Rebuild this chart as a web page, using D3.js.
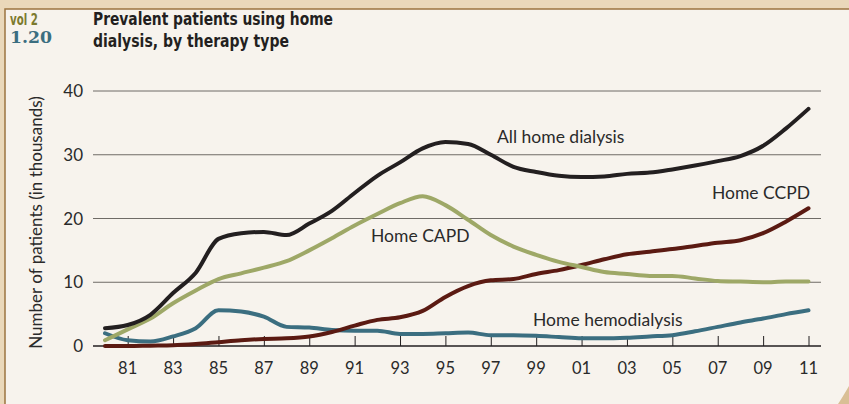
<!DOCTYPE html>
<html>
<head>
<meta charset="utf-8">
<script src="https://cdn.jsdelivr.net/npm/d3@7"></script>
<style>
  html, body { margin: 0; padding: 0; background: #ead8ba; }
  svg { display: block; }
  .axis-title, .tick-label, .series-label { font-family: Lato, "Open Sans", sans-serif; fill: #2a2a2a; }
  .chart-title { font-family: "DejaVu Sans", sans-serif; font-weight: bold; fill: #231f20; }
</style>
</head>
<body>
<div id="chart"></div>
<script>
// years 1980 - 2011
const years = d3.range(1980, 2012);

// values in thousands of patients
const allHome = [2.8, 3.3, 4.9, 8.3, 11.5, 16.8, 17.7, 17.9, 17.4, 19.2, 21.2, 24.0, 26.7, 28.8, 31.0, 32.0,
  31.7, 30.0, 28.1, 27.3, 26.7, 26.5, 26.6, 27.0, 27.2, 27.7, 28.3, 29.0, 29.8, 31.4, 34.1, 37.2];
const homeCAPD = [0.9, 2.6, 4.3, 6.7, 8.7, 10.5, 11.4, 12.3, 13.3, 15.0, 16.9, 18.9, 20.7, 22.4, 23.5, 22.1,
  19.8, 17.4, 15.6, 14.3, 13.2, 12.4, 11.6, 11.3, 11.0, 11.0, 10.6, 10.2, 10.1, 10.0, 10.1, 10.1];
const homeCCPD = [0.0, 0.0, 0.05, 0.1, 0.3, 0.6, 0.9, 1.1, 1.2, 1.5, 2.2, 3.2, 4.1, 4.5, 5.5, 7.7,
  9.4, 10.3, 10.5, 11.3, 11.9, 12.7, 13.6, 14.4, 14.8, 15.2, 15.7, 16.2, 16.6, 17.7, 19.5, 21.6];
const homeHemo = [2.0, 0.9, 0.7, 1.5, 2.8, 5.6, 5.4, 4.6, 3.0, 2.9, 2.5, 2.4, 2.4, 1.9, 1.9, 2.0,
  2.1, 1.7, 1.7, 1.6, 1.4, 1.2, 1.2, 1.3, 1.5, 1.7, 2.3, 3.0, 3.7, 4.3, 5.0, 5.6];

const seriesNames = ['All home dialysis', 'Home CAPD', 'Home CCPD', 'Home hemodialysis'];
const seriesColors = ['#231f20', '#9ea867', '#5b1a12', '#3b6e80'];

const yTicks = [0, 10, 20, 30, 40];
const xTicks = d3.range(1981, 2012, 2);

class LineChart {

  constructor(_config) {
    this.config = {
      parentElement: _config.parentElement,
      containerWidth: 849,
      containerHeight: 404,
      xRange: [105, 808.5],
      yRange: [346, 91],
      gridLeft: 93,
      gridRight: 821
    }
    this.series = [
      {name: seriesNames[0], values: allHome, color: seriesColors[0]},
      {name: seriesNames[1], values: homeCAPD, color: seriesColors[1]},
      {name: seriesNames[2], values: homeCCPD, color: seriesColors[2]},
      {name: seriesNames[3], values: homeHemo, color: seriesColors[3]}
    ];
    this.initVis();
  }

  initVis() {
    let vis = this;

    vis.xScale = d3.scaleLinear()
        .domain([1980, 2011])
        .range(vis.config.xRange);

    vis.yScale = d3.scaleLinear()
        .domain([0, 40])
        .range(vis.config.yRange);

    vis.svg = d3.select(vis.config.parentElement).append('svg')
        .attr('width', vis.config.containerWidth)
        .attr('height', vis.config.containerHeight);

    // paper background with a thin frame
    vis.svg.append('rect')
        .attr('width', vis.config.containerWidth)
        .attr('height', vis.config.containerHeight)
        .attr('fill', '#ead8ba');
    vis.svg.append('rect')
        .attr('x', 5)
        .attr('y', 9)
        .attr('width', vis.config.containerWidth)
        .attr('height', vis.config.containerHeight)
        .attr('fill', '#f7f3ed')
        .attr('stroke', '#9c7440')
        .attr('stroke-width', 1.5);
    // little page curl in the bottom right corner
    vis.svg.append('path')
        .attr('d', 'M849,386 Q842,398 838,404 L849,404 Z')
        .attr('fill', '#d9bf95');

    // header
    vis.svg.append('text')
        .attr('x', 10)
        .attr('y', 25)
        .attr('font-family', '"DejaVu Sans", sans-serif')
        .attr('font-weight', 'bold')
        .attr('font-size', 15)
        .attr('textLength', 28)
        .attr('lengthAdjust', 'spacingAndGlyphs')
        .attr('fill', '#7c7a2e')
        .text('vol 2');
    vis.svg.append('text')
        .attr('x', 10)
        .attr('y', 43)
        .attr('font-family', '"DejaVu Serif", serif')
        .attr('font-weight', 'bold')
        .attr('font-size', 16)
        .attr('textLength', 42)
        .attr('lengthAdjust', 'spacingAndGlyphs')
        .attr('fill', '#3b6e80')
        .text('1.20');

    vis.svg.append('text')
        .attr('class', 'chart-title')
        .attr('x', 93)
        .attr('y', 25)
        .attr('font-size', 18)
        .attr('textLength', 240)
        .attr('lengthAdjust', 'spacingAndGlyphs')
        .text('Prevalent patients using home');
    vis.svg.append('text')
        .attr('class', 'chart-title')
        .attr('x', 93)
        .attr('y', 47)
        .attr('font-size', 18)
        .attr('textLength', 196)
        .attr('lengthAdjust', 'spacingAndGlyphs')
        .text('dialysis, by therapy type');

    vis.chart = vis.svg.append('g');

    vis.svg.append('text')
        .attr('class', 'axis-title')
        .attr('transform', `translate(42,${(vis.config.yRange[0] + vis.config.yRange[1]) / 2 + 4}) rotate(-90)`)
        .attr('text-anchor', 'middle')
        .attr('font-size', 17)
        .text('Number of patients (in thousands)');
  }

  renderVis() {
    let vis = this;

    // horizontal gridlines
    vis.chart.selectAll('.grid')
        .data(yTicks.filter(d => d > 0))
        .join('line')
        .attr('class', 'grid')
        .attr('x1', vis.config.gridLeft)
        .attr('x2', vis.config.gridRight)
        .attr('y1', d => vis.yScale(d))
        .attr('y2', d => vis.yScale(d))
        .attr('stroke', '#6f6b66')
        .attr('stroke-width', 1);

    vis.chart.selectAll('.y-label')
        .data(yTicks)
        .join('text')
        .attr('class', 'tick-label y-label')
        .attr('x', 83)
        .attr('y', d => vis.yScale(d) + 6)
        .attr('text-anchor', 'end')
        .attr('font-size', 17)
        .text(d => d);

    // x axis, ticks pointing up
    vis.xAxis = d3.axisTop(vis.xScale)
        .tickValues(xTicks)
        .tickSize(10)
        .tickSizeOuter(0)
        .tickFormat('');

    vis.xAxisG = vis.chart.append('g')
        .attr('transform', `translate(0,${vis.yScale(0)})`)
        .call(vis.xAxis);
    vis.xAxisG.select('.domain')
        .attr('d', `M${vis.config.gridLeft},0H${vis.config.gridRight}`)
        .attr('stroke', '#231f20')
        .attr('stroke-width', 1.5);
    vis.xAxisG.selectAll('.tick line').attr('stroke', '#231f20');

    vis.chart.selectAll('.x-label')
        .data(xTicks)
        .join('text')
        .attr('class', 'tick-label x-label')
        .attr('x', d => vis.xScale(d))
        .attr('y', 374)
        .attr('text-anchor', 'middle')
        .attr('font-size', 16.5)
        .text(d => d3.format('02d')(d % 100));

    const line = d3.line()
        .x((d, i) => vis.xScale(years[i]))
        .y(d => vis.yScale(d))
        .curve(d3.curveMonotoneX);

    // draw bottom series first so the black total sits on top
    vis.chart.selectAll('.series')
        .data(vis.series.slice().reverse())
        .join('path')
        .attr('class', 'series')
        .attr('fill', 'none')
        .attr('stroke', d => d.color)
        .attr('stroke-width', 4)
        .attr('stroke-linejoin', 'round')
        .attr('stroke-linecap', 'round')
        .attr('d', d => line(d.values));

    const labels = [
      {text: seriesNames[0], x: 497, y: 143, anchor: 'start'},
      {text: seriesNames[1], x: 371, y: 242, anchor: 'start'},
      {text: seriesNames[2], x: 810, y: 199, anchor: 'end'},
      {text: seriesNames[3], x: 533, y: 326, anchor: 'start'}
    ];
    vis.chart.selectAll('.series-label')
        .data(labels)
        .join('text')
        .attr('class', 'series-label')
        .attr('x', d => d.x)
        .attr('y', d => d.y)
        .attr('text-anchor', d => d.anchor)
        .attr('font-size', 17.5)
        .text(d => d.text);
  }
}

const chart = new LineChart({parentElement: '#chart'});
chart.renderVis();
</script>
</body>
</html>
